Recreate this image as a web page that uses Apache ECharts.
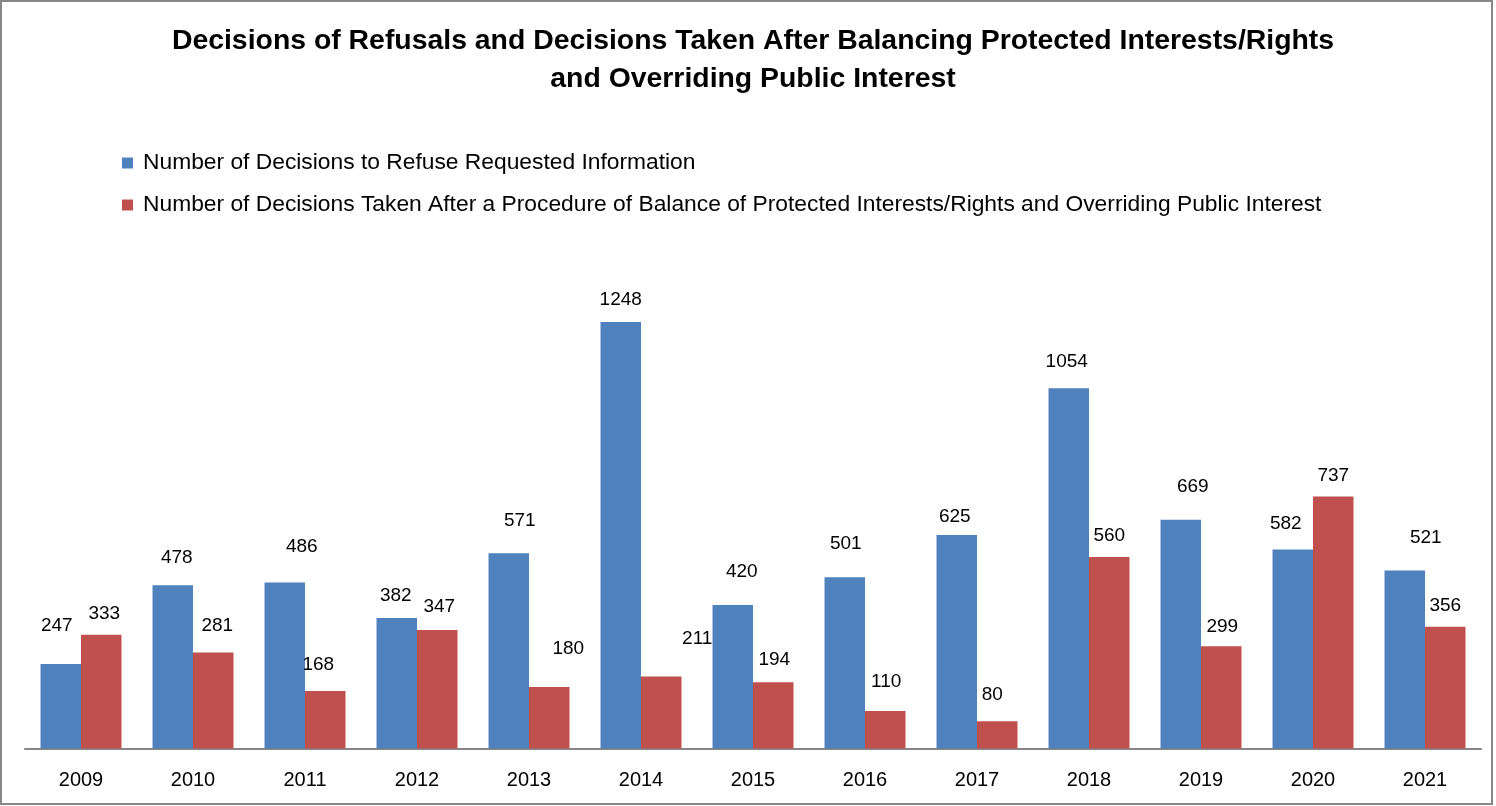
<!DOCTYPE html>
<html>
<head>
<meta charset="utf-8">
<script src="https://cdn.jsdelivr.net/npm/echarts@6/dist/echarts.min.js"></script>
<style>
html,body{margin:0;padding:0;background:#fff;}
#chart{width:1496px;height:806px;}
</style>
</head>
<body>
<div id="chart"></div>
<script>
// ---- data ----
const years = ['2009','2010','2011','2012','2013','2014','2015','2016','2017','2018','2019','2020','2021'];
const refusals = [247, 478, 486, 382, 571, 1248, 420, 501, 625, 1054, 669, 582, 521];
const balanced = [333, 281, 168, 347, 180, 211, 194, 110, 80, 560, 299, 737, 356];
const seriesNames = [
  'Number of Decisions to Refuse Requested Information',
  'Number of Decisions Taken After a Procedure of Balance of Protected Interests/Rights and Overriding Public Interest'
];
const titleText = 'Decisions of Refusals and Decisions Taken After Balancing Protected Interests/Rights\nand Overriding Public Interest';

// label nudges (as placed in the reference), relative to the bar top
const nudgeBlue = [[-4,-38],[4,-27],[17,-36],[-1,-22],[11,-33],[0,-22],[9,-33],[1,-33],[-2,-18],[-2,-26],[12,-33],[-7,-26],[21,-33]];
const nudgeRed  = [[3,-21],[4,-27],[-7,-26],[2,-23],[19,-38],[36,-38],[1,-22],[1,-29],[-5,-26],[0,-21],[1,-20],[0,-21],[0,-21]];

const FONT = '"Liberation Sans", Arial, sans-serif';

function withLabels(vals, nudges){
  return vals.map((v,i)=>({value:v, label:{offset:nudges[i]}}));
}

const chart = echarts.init(document.getElementById('chart'), null, {renderer:'canvas'});
chart.setOption({
  animation:false,
  backgroundColor:'#ffffff',
  color:['#4F81BD','#C0504D'],
  title:{
    text:titleText,
    left:748, top:17,
    textAlign:'center',
    textStyle:{fontFamily:FONT, fontSize:28.4, fontWeight:'bold', color:'#000', lineHeight:38}
  },
  legend:{
    orient:'vertical',
    left:122, top:151, padding:0,
    itemWidth:11, itemHeight:11, itemGap:18,
    icon:'rect',
    data:seriesNames,
    textStyle:{fontFamily:FONT, fontSize:22.8, color:'#000', lineHeight:24, padding:[0,0,0,5]}
  },
  grid:{left:25, right:15, top:270, bottom:57.5, containLabel:false},
  xAxis:{
    type:'category',
    data:years,
    axisLine:{show:true, lineStyle:{color:'#868686', width:2}},
    axisTick:{show:false},
    axisLabel:{fontFamily:FONT, fontSize:20, color:'#000', margin:22, lineHeight:20}
  },
  yAxis:{
    type:'value', min:0, max:1400,
    show:false,
    splitLine:{show:false}
  },
  graphic:[{
    type:'rect', silent:true, z:100,
    shape:{x:1, y:1, width:1491, height:803},
    style:{fill:'none', stroke:'#868686', lineWidth:2}
  }],
  series:[
    {
      name:seriesNames[0], type:'bar', barGap:'0%', barCategoryGap:'27.7%',
      data:withLabels(refusals, nudgeBlue),
      label:{show:true, position:'top', distance:0, verticalAlign:'middle', fontFamily:FONT, fontSize:19, color:'#000'}
    },
    {
      name:seriesNames[1], type:'bar', barGap:'0%', barCategoryGap:'27.7%',
      data:withLabels(balanced, nudgeRed),
      label:{show:true, position:'top', distance:0, verticalAlign:'middle', fontFamily:FONT, fontSize:19, color:'#000'}
    }
  ]
});
</script>
</body>
</html>
